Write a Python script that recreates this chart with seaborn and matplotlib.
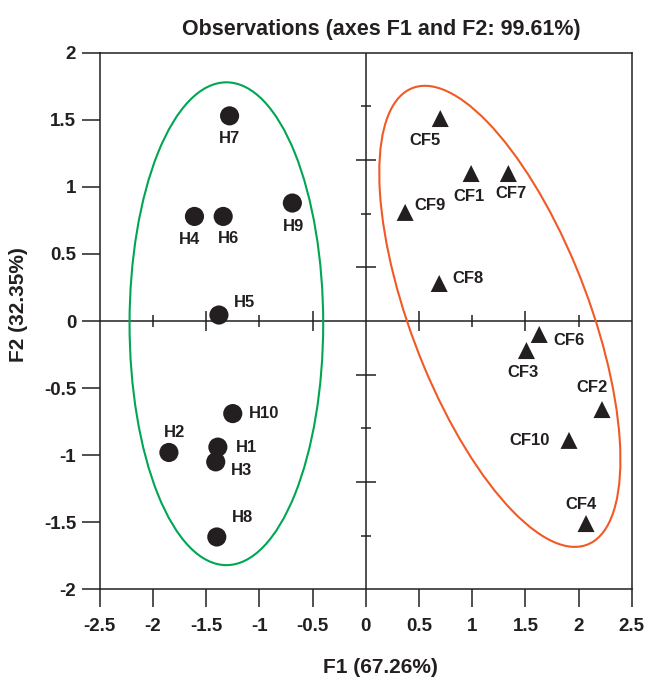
#!/usr/bin/env python3
"""
PCA observations plot (F1 vs F2) with group ellipses.
"""

import numpy as np
import pandas as pd
import matplotlib
matplotlib.use("Agg")
import matplotlib.pyplot as plt
from matplotlib.patches import Ellipse
import seaborn as sns

# ------------------------------------------------------------------
# Data
# ------------------------------------------------------------------

h_labels = ["H1", "H2", "H3", "H4", "H5", "H6", "H7", "H8", "H9", "H10"]
h_f1 = [-1.39, -1.85, -1.41, -1.61, -1.38, -1.34, -1.28, -1.40, -0.69, -1.25]
h_f2 = [-0.94, -0.98, -1.05, 0.78, 0.045, 0.78, 1.53, -1.61, 0.88, -0.69]

cf_labels = ["CF1", "CF2", "CF3", "CF4", "CF5", "CF6", "CF7", "CF8", "CF9", "CF10"]
cf_f1 = [0.99, 2.22, 1.51, 2.07, 0.70, 1.63, 1.34, 0.69, 0.37, 1.91]
cf_f2 = [1.10, -0.66, -0.22, -1.51, 1.51, -0.10, 1.10, 0.28, 0.81, -0.89]

# group ellipses: centre, width, height, angle
h_ellipse = {"xy": (-1.31, -0.02), "width": 1.82, "height": 3.60, "angle": 0}
cf_ellipse = {"xy": (1.26, 0.035), "width": 3.79, "height": 1.61, "angle": -62.3}

x_ticks = [-2.5, -2, -1.5, -1, -0.5, 0, 0.5, 1, 1.5, 2, 2.5]
y_ticks = [-2, -1.5, -1, -0.5, 0, 0.5, 1, 1.5, 2]

# label centre offsets in pixels (dx, dy), relative to the marker
h_offsets = [(29, 0), (6, 20), (26, -9), (-5, -23), (26, 13),
             (5, -22), (0, -23), (26, 19), (1, -23), (31, 0)]
cf_offsets = [(-2, -23), (-10, 22), (-3, -22), (-5, 19), (-15, -22),
              (30, -6), (3, -20), (29, 5), (25, 7), (-39, 0)]

df = pd.DataFrame({
    "F1": h_f1 + cf_f1,
    "F2": h_f2 + cf_f2,
    "label": h_labels + cf_labels,
    "group": ["H"] * len(h_labels) + ["CF"] * len(cf_labels),
})

# ------------------------------------------------------------------
# Style
# ------------------------------------------------------------------

sns.set_theme(style="white")
plt.rcParams["font.family"] = ["Liberation Sans", "DejaVu Sans"]
plt.rcParams["font.weight"] = "bold"
INK = "#231f20"

fig = plt.figure(figsize=(6.52, 6.86), dpi=100)
ax = fig.add_axes([0.153, 0.141, 0.816, 0.782])

sns.scatterplot(data=df, x="F1", y="F2", style="group",
                markers={"H": "o", "CF": "^"}, size="group",
                sizes={"H": 190, "CF": 150}, color=INK,
                edgecolor="none", legend=False, ax=ax, zorder=5)

for e, col in [(h_ellipse, "#00a651"), (cf_ellipse, "#f15a24")]:
    ax.add_patch(Ellipse(e["xy"], e["width"], e["height"], angle=e["angle"],
                         fill=False, edgecolor=col, lw=1.5, zorder=3))

for lab, x, y, (dx, dy) in zip(h_labels + cf_labels, h_f1 + cf_f1, h_f2 + cf_f2,
                               h_offsets + cf_offsets):
    ax.annotate(lab, (x, y), xytext=(dx, dy), textcoords="offset pixels",
                ha="center", va="center", fontsize=12, fontweight="bold", color=INK)

# zero lines with their own crossing ticks
ax.axhline(0, color=INK, lw=1.1, zorder=2)
ax.axvline(0, color=INK, lw=1.1, zorder=2)
hx = np.array([-2, -1.5, -1, -0.5, 0.5, 1, 1.5, 2])
long_x = hx[np.isclose(np.abs(hx) % 1, 0.5)]
short_x = hx[np.isclose(np.abs(hx) % 1, 0)]
ax.plot(long_x, np.zeros_like(long_x), ls="none", marker="|", ms=15, mew=1.1, color=INK)
ax.plot(short_x, np.zeros_like(short_x), ls="none", marker="|", ms=8, mew=1.1, color=INK)
vy = np.array([-1.6, -1.2, -0.8, -0.4, 0.4, 0.8, 1.2, 1.6])
long_y = vy[np.isclose(np.abs(vy) % 0.8, 0.4)]
short_y = vy[~np.isclose(np.abs(vy) % 0.8, 0.4)]
ax.plot(np.zeros_like(long_y), long_y, ls="none", marker="_", ms=14, mew=1.1, color=INK)
ax.plot(np.zeros_like(short_y), short_y, ls="none", marker="_", ms=7, mew=1.1, color=INK)

ax.set_xlim(-2.5, 2.5)
ax.set_ylim(-2, 2)
ax.set_xticks(x_ticks)
ax.set_yticks(y_ticks)
ax.set_xticklabels([f"{t:g}" for t in x_ticks])
ax.set_yticklabels([f"{t:g}" for t in y_ticks])

for s in ax.spines.values():
    s.set_color(INK)
    s.set_linewidth(1.1)

ax.tick_params(axis="x", direction="out", length=13, width=1.1, pad=8,
               colors=INK, labelsize=13.5, bottom=True)
ax.tick_params(axis="y", direction="out", length=13, width=1.1, pad=4,
               colors=INK, labelsize=13.5, left=True)
for lbl in ax.get_xticklabels() + ax.get_yticklabels():
    lbl.set_fontweight("bold")

ax.set_title("Observations (axes F1 and F2: 99.61%)", fontsize=15.5,
             fontweight="bold", pad=13, color=INK, x=0.53)
ax.set_xlabel("F1 (67.26%)", fontsize=15, fontweight="bold", color=INK)
ax.set_ylabel("F2 (32.35%)", fontsize=15, fontweight="bold", color=INK)
ax.xaxis.set_label_coords(0.528, -0.128)
ax.yaxis.set_label_coords(-0.135, 0.53)

fig.savefig("out.png", dpi=100)
plt.close(fig)
